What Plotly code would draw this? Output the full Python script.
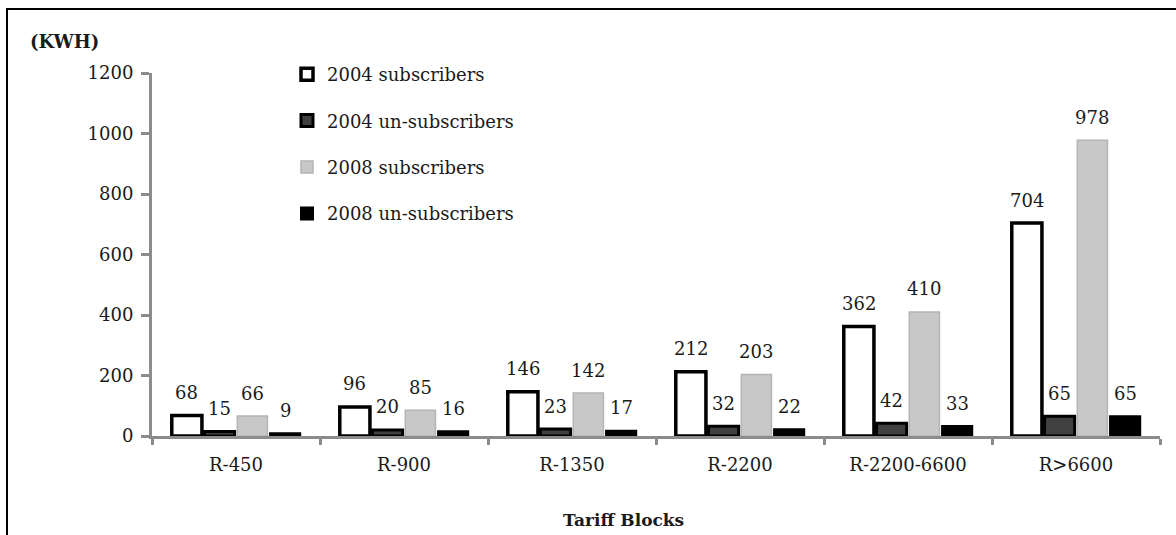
import plotly.graph_objects as go

# Monthly electricity consumption by tariff block
categories = ["R-450", "R-900", "R-1350", "R-2200", "R-2200-6600", "R>6600"]
subs_2004 = [68, 96, 146, 212, 362, 704]
unsubs_2004 = [15, 20, 23, 32, 42, 65]
subs_2008 = [66, 85, 142, 203, 410, 978]
unsubs_2008 = [9, 16, 17, 22, 33, 65]

series_names = ["2004 subscribers", "2004 un-subscribers",
                "2008 subscribers", "2008 un-subscribers"]
series_values = [subs_2004, unsubs_2004, subs_2008, unsubs_2008]
fills = ["#ffffff", "#404040", "#c8c8c8", "#000000"]
outlines = ["#000000", "#000000", "#b4b4b4", "#000000"]
outline_w = [3.5, 3, 1.5, 2]

FONT = "DejaVu Serif"
TXT = "#1a1a1a"
AXIS = "#8c8c8c"
BARGAP = 0.22

W, H = 1176, 535
L, R, T, B = 152, 16, 73, 99
pw, ph = W - L - R, H - T - B


def px_x(px):
    return (px - L) / pw


def px_y(py):
    return (H - B - py) / ph


fig = go.Figure()
for k, (name, vals) in enumerate(zip(series_names, series_values)):
    fig.add_trace(go.Bar(
        name=name, x=categories, y=vals,
        marker=dict(color=fills[k], line=dict(color=outlines[k], width=outline_w[k])),
        legendgroup=name,
    ))

# value labels above each bar
n = len(series_names)
slot = (1 - BARGAP) / n
for k, vals in enumerate(series_values):
    off = (k - (n - 1) / 2) * slot
    for i, v in enumerate(vals):
        fig.add_annotation(x=i + off, y=v, xref="x", yref="y", text=str(v),
                           showarrow=False, yanchor="middle", yshift=23,
                           font=dict(family=FONT, size=18, color=TXT))

fig.add_annotation(x=px_x(64), y=px_y(42), xref="paper", yref="paper",
                   text="<b>(KWH)</b>", showarrow=False,
                   xanchor="center", yanchor="middle",
                   font=dict(family=FONT, size=18, color=TXT))
fig.add_annotation(x=px_x(623), y=px_y(520), xref="paper", yref="paper",
                   text="<b>Tariff Blocks</b>", showarrow=False,
                   xanchor="center", yanchor="middle",
                   font=dict(family=FONT, size=17, color=TXT))

# outer frame
fig.add_shape(type="rect", xref="paper", yref="paper",
              x0=px_x(7), x1=px_x(1185), y0=px_y(545), y1=px_y(9),
              line=dict(color="#000000", width=2), fillcolor="rgba(0,0,0,0)")

fig.update_layout(
    width=W, height=H,
    margin=dict(l=L, r=R, t=T, b=B),
    paper_bgcolor="white", plot_bgcolor="white",
    barmode="group", bargap=BARGAP, bargroupgap=0.08,
    font=dict(family=FONT, size=18, color=TXT),
    showlegend=True,
    legend=dict(x=px_x(287), y=px_y(56), xanchor="left", yanchor="top",
                font=dict(family=FONT, size=18, color=TXT),
                bgcolor="rgba(0,0,0,0)", tracegroupgap=20,
                traceorder="grouped", itemwidth=30),
    xaxis=dict(type="category", showline=True, linecolor=AXIS, linewidth=3,
               ticks="outside", tickson="boundaries", tickcolor=AXIS,
               tickwidth=3, ticklen=6, showgrid=False,
               ticklabelstandoff=10,
               tickfont=dict(family=FONT, size=18, color=TXT)),
    yaxis=dict(range=[0, 1200], dtick=200, showline=True, linecolor=AXIS,
               linewidth=3, ticks="outside", tickcolor=AXIS, tickwidth=3,
               ticklen=8, showgrid=False, zeroline=False,
               ticklabelstandoff=4,
               tickfont=dict(family=FONT, size=18, color=TXT)),
)

fig.write_html("out.html")
